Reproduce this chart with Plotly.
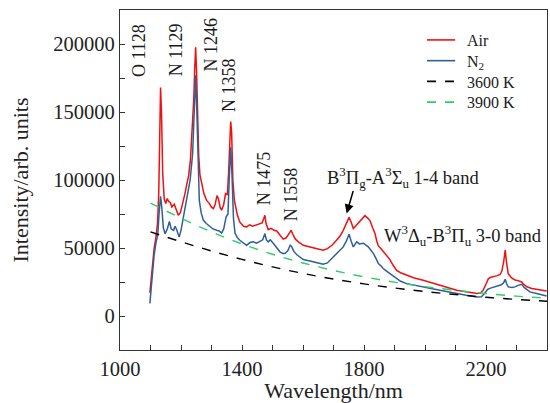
import plotly.graph_objects as go

# ---------------- data ----------------
air_wl = [1098, 1105, 1112, 1118, 1123, 1127, 1130, 1133, 1136, 1140, 1145, 1150, 1155, 1160, 1165,
          1170, 1178, 1185, 1191, 1198, 1205, 1213, 1219, 1225, 1231, 1238, 1242, 1245, 1248, 1251,
          1254, 1258, 1262, 1268, 1275, 1284, 1292, 1300, 1306, 1312, 1318, 1323, 1328, 1333, 1340,
          1346, 1352, 1356, 1360, 1363, 1366, 1370, 1375, 1385, 1393, 1405, 1415, 1425, 1435, 1448,
          1458, 1466, 1472, 1475, 1479, 1486, 1495, 1505, 1514, 1525, 1535, 1545, 1555, 1561, 1567,
          1575, 1585, 1601, 1623, 1645, 1666, 1680, 1695, 1710, 1722, 1732, 1742, 1751, 1758, 1765,
          1772, 1781, 1792, 1803, 1812, 1820, 1828, 1836, 1842, 1847, 1856, 1863, 1875, 1885, 1895,
          1907, 1920, 1940, 1965, 1994, 2020, 2049, 2075, 2104, 2135, 2170, 2182, 2191, 2200, 2208,
          2216, 2224, 2235, 2246, 2252, 2258, 2263, 2267, 2273, 2284, 2295, 2305, 2317, 2325, 2334,
          2350, 2366, 2382, 2399]
air_int = [17000, 35000, 50000, 58000, 68000, 90000, 140000, 168000, 150000, 105000, 86000, 82700, 86400, 84000, 83500,
           80200, 82200, 77000, 74100, 76000, 82000, 90000, 97000, 103000, 115000, 140000, 160000, 182000, 197500, 180000,
           145000, 118000, 104000, 97000, 90000, 85000, 83000, 80000, 79000, 82000, 88500, 86000, 80000, 77800, 82000,
           90000, 89000, 105000, 132000, 143000, 135000, 100000, 85000, 74000, 69000, 66000, 65500, 67000, 66000, 67000,
           68000, 68500, 72000, 74000, 68000, 63500, 64500, 63000, 62500, 59000, 56500, 57500, 61500, 63000, 60000,
           56500, 54500, 52000, 50800, 49500, 48400, 49500, 52000, 55700, 59000, 63000, 68000, 72500, 69000, 64300,
           66000, 68500, 71000, 73800, 72000, 70000, 65000, 60600, 55000, 51500, 49500, 47500, 44500, 41500, 37500,
           33500, 31800, 30000, 28000, 26300, 24500, 22600, 20800, 19000, 17800, 16500, 17000, 19000, 23500, 27500,
           28500, 28800, 29500, 30500, 33000, 40000, 48500, 40000, 31000, 28000, 26500, 26000, 25000, 23000, 21500,
           20200, 19500, 19000, 18400]

n2_wl = [1098, 1105, 1112, 1118, 1124, 1128, 1131, 1133, 1137, 1142, 1148, 1155, 1162, 1168, 1176,
         1180, 1185, 1190, 1194, 1200, 1208, 1215, 1222, 1230, 1238, 1243, 1248, 1252, 1256, 1260,
         1266, 1273, 1283, 1295, 1305, 1317, 1325, 1333, 1340, 1348, 1354, 1358, 1363, 1367, 1372,
         1377, 1385, 1393, 1404, 1415, 1426, 1437, 1448, 1459, 1468, 1475, 1480, 1486, 1493, 1503,
         1514, 1525, 1535, 1541, 1550, 1558, 1563, 1570, 1580, 1590, 1601, 1623, 1645, 1666, 1680,
         1689, 1700, 1710, 1720, 1732, 1742, 1751, 1758, 1765, 1776, 1785, 1798, 1806, 1814, 1822,
         1831, 1840, 1847, 1856, 1863, 1874, 1885, 1896, 1907, 1920, 1940, 1965, 1994, 2020, 2049,
         2075, 2104, 2135, 2170, 2185, 2195, 2205, 2215, 2235, 2250, 2258, 2263, 2268, 2273, 2285,
         2295, 2305, 2317, 2325, 2335, 2344, 2366, 2382, 2399]
n2_int = [9300, 28000, 45000, 54000, 60000, 75000, 86000, 88000, 80000, 65000, 60500, 64000, 69500, 64000, 63000,
          66000, 64000, 60000, 58000, 63000, 73000, 82000, 90000, 100000, 119000, 150000, 177000, 150000, 105000, 85000,
          76000, 70500, 68000, 65500, 64000, 63000, 62500, 61000, 64000, 73000, 75000, 100000, 124000, 105000, 72000,
          61000, 57500, 55700, 53500, 52000, 54000, 54500, 53500, 55000, 56000, 60600, 56000, 54500, 56000, 53300,
          50000, 47000, 46000, 45900, 48000, 52000, 51000, 47500, 45000, 43000, 41500, 40500, 39000, 38000, 39000,
          41000, 43500, 45900, 48000, 50800, 55000, 60100, 55000, 50800, 54500, 53000, 53500, 52000, 50800, 48500,
          45900, 42000, 38600, 36800, 34900, 33000, 31200, 29000, 27500, 25500, 23800, 22500, 21400, 20200, 18900,
          17700, 16500, 15200, 14000, 14200, 16500, 19500, 20500, 21900, 23000, 24500, 27000, 23500, 21400, 21000,
          21400, 22500, 23300, 21000, 19000, 17700, 16500, 15500, 14700]

fit_wl = [1100, 1200, 1300, 1400, 1500, 1600, 1700, 1800, 1900, 2000, 2100, 2200, 2300, 2400]
fit_3600 = [61800, 54600, 47800, 41600, 36100, 31300, 27200, 23600, 20600, 18000, 15800, 13800, 12200, 10900]
fit_3900 = [83000, 71900, 61800, 53000, 45400, 39000, 33500, 28800, 24900, 21600, 18900, 16500, 14600, 13200]

x_ticks = [1000, 1400, 1800, 2200]
y_ticks = [0, 50000, 100000, 150000, 200000]

series_names = ["Air", "N<sub>2</sub>", "3600 K", "3900 K"]
peak_labels = ["O 1128", "N 1129", "N 1246", "N 1358", "N 1475", "N 1558"]
peak_label_x = [1062, 1184, 1298, 1357, 1472, 1561]
peak_label_y = [195500, 195500, 199600, 169800, 101300, 89600]

FONT = "Liberation Serif, DejaVu Serif, Noto Serif, serif"
TXT = "#1a1a1a"

colors = ["#f01010", "#2f5f98", "#000000", "#33cc66"]
dashes = ["solid", "solid", "dash", "dash"]

fig = go.Figure()
fig.add_trace(go.Scatter(x=air_wl, y=air_int, mode="lines", name=series_names[0], showlegend=False,
                         line=dict(color=colors[0], width=1.5)))
fig.add_trace(go.Scatter(x=n2_wl, y=n2_int, mode="lines", name=series_names[1], showlegend=False,
                         line=dict(color=colors[1], width=1.5)))
fig.add_trace(go.Scatter(x=fit_wl, y=fit_3600, mode="lines", name=series_names[2], line_shape="spline",
                         showlegend=False, line=dict(color=colors[2], width=1.4, dash="dash")))
fig.add_trace(go.Scatter(x=fit_wl, y=fit_3900, mode="lines", name=series_names[3], line_shape="spline",
                         showlegend=False, line=dict(color=colors[3], width=1.4, dash="dash")))

# compact legend: one multi-line text block plus sample lines
LEG_FS = 16
leg_rows = [0.912, 0.851, 0.790, 0.729]
for col, dsh, yy in zip(colors, dashes, leg_rows):
    fig.add_shape(type="line", xref="paper", yref="paper", x0=0.719, x1=0.785, y0=yy, y1=yy,
                  line=dict(color=col, width=1.6, dash=dsh))
fig.add_annotation(xref="paper", yref="paper", x=0.808, y=sum(leg_rows) / 4, text="<br>".join(series_names),
                   xanchor="left", yanchor="middle", align="left", showarrow=False,
                   font=dict(family=FONT, size=LEG_FS, color=TXT))

# rotated peak labels
for txt, lx, ly in zip(peak_labels, peak_label_x, peak_label_y):
    fig.add_annotation(x=lx, y=ly, text=txt, textangle=-90, showarrow=False,
                       font=dict(family=FONT, size=18, color=TXT))

fig.add_annotation(x=1929, y=102000, text="B<sup>3</sup>Π<sub>g</sub>-A<sup>3</sup>Σ<sub>u</sub> 1-4 band",
                   xanchor="center", showarrow=False, font=dict(family=FONT, size=18.5, color=TXT))
fig.add_annotation(x=1743, y=75400, text="", showarrow=True, arrowhead=2, arrowsize=1.2,
                   arrowwidth=1.5, arrowcolor="#000", ax=7, ay=-24)
fig.add_annotation(x=2390, y=59400, text="W<sup>3</sup>Δ<sub>u</sub>-B<sup>3</sup>Π<sub>u</sub> 3-0 band",
                   xanchor="right", showarrow=False, font=dict(family=FONT, size=18.5, color=TXT))

axis_common = dict(showline=True, linecolor="#333", linewidth=1.4, mirror=True,
                   ticks="inside", ticklen=5, tickcolor="#333", tickwidth=1.2,
                   showgrid=False, zeroline=False,
                   tickfont=dict(family=FONT, size=20.5, color="#222"))

fig.update_xaxes(range=[1000, 2400], tickvals=x_ticks,
                 minor=dict(dtick=100, ticks="inside", ticklen=5, tickcolor="#333", tickwidth=1.2),
                 title=dict(text="Wavelength/nm", font=dict(family=FONT, size=22, color="#222"), standoff=7),
                 **axis_common)
fig.update_yaxes(range=[-25000, 225000], tickvals=y_ticks, tickformat="d",
                 minor=dict(dtick=25000, tick0=0, ticks="inside", ticklen=5, tickcolor="#333", tickwidth=1.2),
                 title=dict(text="Intensity/arb. units", font=dict(family=FONT, size=22, color="#222"), standoff=18),
                 **axis_common)

fig.update_layout(
    width=550, height=403,
    margin=dict(l=120, r=3, t=10, b=53, autoexpand=False),
    plot_bgcolor="white", paper_bgcolor="white",
    showlegend=False,
)

fig.write_html("out.html", config={"displayModeBar": False},
               post_script="document.body.style.margin='0px';")
